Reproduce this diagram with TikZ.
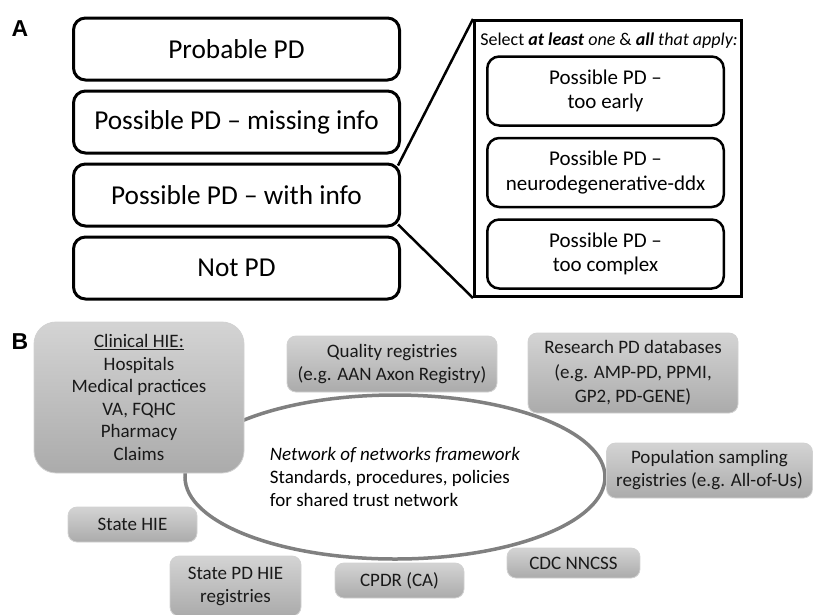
\documentclass[tikz,border=0pt]{standalone}
\usepackage{fontspec}
\setmainfont{Carlito}
\newfontfamily\panelfont{Liberation Sans}
\usetikzlibrary{positioning, shapes.geometric}

\begin{document}
\begin{tikzpicture}[x=1pt,y=-1pt]

    \tikzset{
        panel/.style={font=\panelfont\bfseries\fontsize{23}{23}\selectfont},
        classbox/.style={draw, line width=3pt, rounded corners=12pt, minimum width=326pt, minimum height=62pt, font=\fontsize{27.3}{32}\selectfont},
        subbox/.style={draw, line width=2.5pt, rounded corners=12pt, minimum width=236.5pt, minimum height=69pt, align=center, font=\fontsize{21}{24.5}\selectfont},
        greybox/.style={draw=black!18, line width=0.8pt, rounded corners=9pt, top color=black!17, bottom color=black!33, align=center, inner sep=0pt, text=black!90, font=\fontsize{19}{23}\selectfont}
    }

    \useasboundingbox (0,0) rectangle (813,614);

    % A: classification
    \node[panel] (A) at (20,29) {A};
    \node[classbox] (p1) at (236.5,49) {Probable PD};
    \node[classbox] (p2) [below=8pt of p1] {Possible PD -- missing info};
    \node[classbox] (p3) [below=8pt of p2] {Possible PD -- with info};
    \node[classbox] (p4) [below=8pt of p3] {Not PD};

    \node[draw, line width=3pt, minimum width=267pt, minimum height=276pt] (sel) at (608,158.5) {};
    \node[font=\fontsize{18}{20}\selectfont] (head) at (609,41) {Select \textbf{\textit{at least}} \textit{one} \& \textbf{\textit{all}} \textit{that apply:}};
    \node[subbox] (s1) at (605.5,91) {Possible PD --\\too early};
    \node[subbox] (s2) [below=10pt of s1] {Possible PD --\\neurodegenerative-ddx};
    \node[subbox] (s3) [below=10pt of s2] {Possible PD --\\too complex};

    \draw[line width=2.5pt] ([shift={(-3,3)}]p3.north east) -- (sel.north west);
    \draw[line width=2.5pt] ([shift={(-3,-3)}]p3.south east) -- (sel.south west);

    % B: network of networks
    \node[panel] (B) at (20,342) {B};
    \node[ellipse, draw=gray, line width=3.5pt, fill=white, minimum width=420pt, minimum height=164pt, align=left, font=\fontsize{19}{22.6}\selectfont] (net) at (395,477)
        {\textit{Network of networks framework}\\Standards, procedures, policies\\for shared trust network};

    \node[greybox, rounded corners=22pt, minimum width=210pt, minimum height=151pt, font=\fontsize{19}{22.6}\selectfont] (hie) at (139,397.5)
        {\underline{Clinical HIE:}\\Hospitals\\Medical practices\\VA, FQHC\\Pharmacy\\Claims};
    \node[greybox, minimum width=210pt, minimum height=56pt] (qual) at (392,364) {Quality registries\\(e.g. AAN Axon Registry)};
    \node[greybox, minimum width=210pt, minimum height=80pt, font=\fontsize{19}{24.5}\selectfont] (res) at (633,373) {Research PD databases\\(e.g. AMP-PD, PPMI,\\GP2, PD-GENE)};
    \node[greybox, minimum width=206pt, minimum height=55pt] (pop) at (709.5,470.5) {Population sampling\\registries (e.g. All-of-Us)};
    \node[greybox, minimum width=133pt, minimum height=30pt] (cdc) at (573.5,563) {CDC NNCSS};
    \node[greybox, minimum width=129pt, minimum height=35pt] (cpdr) at (399.5,580.5) {CPDR (CA)};
    \node[greybox, minimum width=131pt, minimum height=60pt] (spd) at (235.5,586) {State PD HIE\\registries};
    \node[greybox, minimum width=129pt, minimum height=35pt] (shie) at (132.5,524.5) {State HIE};

\end{tikzpicture}
\end{document}
